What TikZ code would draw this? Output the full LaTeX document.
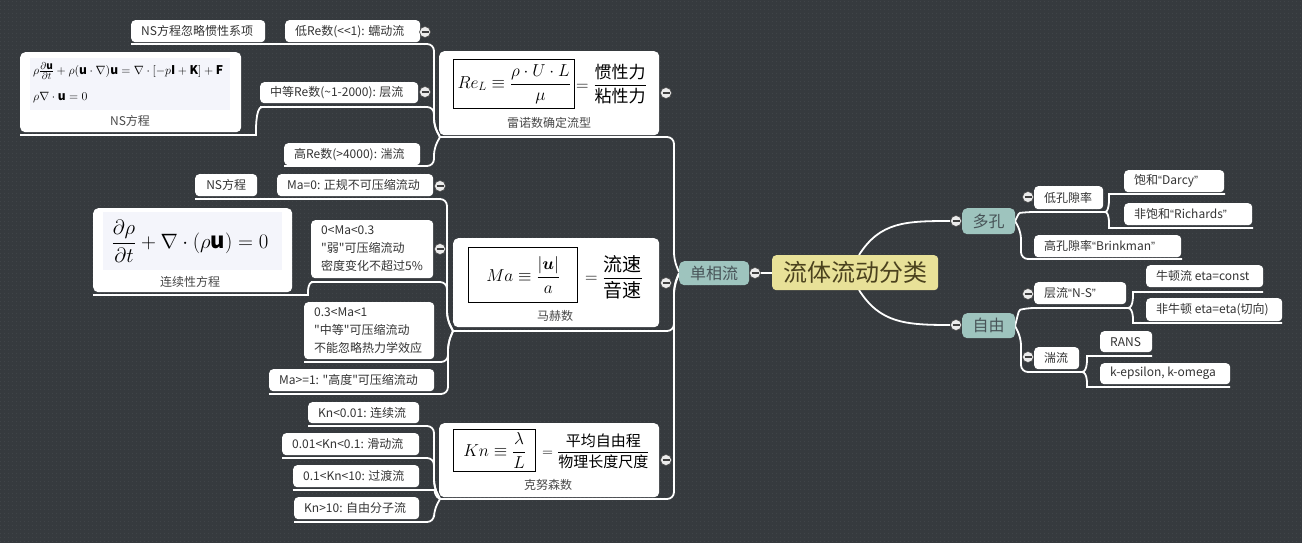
\documentclass[tikz,border=0pt]{standalone}
\usepackage{amsmath,bm}
\usepackage{fontspec}
\setmainfont{Noto Sans CJK SC}
\newfontfamily\plainf{Noto Sans CJK SC}
\newfontfamily\latf{Liberation Sans}
\usetikzlibrary{patterns.meta}
\definecolor{bg}{RGB}{54,58,62}
\definecolor{dotc}{RGB}{68,72,76}
\definecolor{txt}{RGB}{51,51,51}
\definecolor{capc}{RGB}{72,72,72}
\definecolor{tealn}{RGB}{158,196,190}
\definecolor{tealtxt}{RGB}{72,84,88}
\definecolor{yel}{RGB}{232,225,152}
\definecolor{yeltxt}{RGB}{75,66,30}
\definecolor{fbg}{RGB}{244,245,251}
\tikzdeclarepattern{name=bgdots, type=uncolored, bounding box={(0pt,0pt) and (4pt,4pt)}, tile size={(4pt,4pt)}, code={\fill (2pt,2pt) circle (0.6pt);}}
\tikzset{
  conn/.style={draw=white, line width=1.8pt, rounded corners=7pt},
  wbox/.style={fill=white, rounded corners=4pt, anchor=north west, inner xsep=10pt, inner ysep=0pt, text=txt, font=\plainf\fontsize{12}{18}\selectfont},
  bigbox/.style={fill=white, rounded corners=5pt, anchor=north west, inner sep=0pt},
  eqbox/.style={draw=black, line width=1.4pt, anchor=north west, inner sep=0pt},
  fbgbox/.style={fill=fbg, anchor=north west, inner sep=0pt},
  capt/.style={text=capc, inner sep=0pt, font=\fontsize{12}{14}\selectfont},
  tbox/.style={fill=tealn, rounded corners=5pt, text=tealtxt, font=\fontsize{16}{18}\selectfont, anchor=north west, inner sep=0pt},
  tog/.style={circle, fill=white!92!black, draw=gray!60!black, line width=0.6pt, minimum size=11pt, inner sep=0pt,
    path picture={\draw[black!75, line width=1.3pt] ([xshift=-3.5pt]path picture bounding box.center) -- ([xshift=3.5pt]path picture bounding box.center);}},
}
\newcommand\wbx[6]{\node[wbox, minimum height={#5-#3}] (#1) at (#2,#3) {\makebox[\dimexpr#4pt-#2pt-20pt\relax][l]{#6}};}
\newcommand\cbx[7]{\node[#6, minimum width={#4-#2}, minimum height={#5-#3}] (#1) at (#2,#3) {#7};}
\newcommand\nsfr[1]{\text{\fontsize{10}{11}\selectfont$#1$}}
\begin{document}
\begin{tikzpicture}[x=1pt,y=-1pt]
\useasboundingbox (0,0) rectangle (1302,543);
\fill[bg] (0,0) rectangle (1302,543);
\fill[pattern=bgdots, pattern color=dotc] (0,0) rectangle (1302,543);

% ---------- connectors right ----------
\coordinate (cenN) at (859,255);
\coordinate (cenS) at (859,290);
\draw[conn] (cenN) .. controls (880,222) and (905,221) .. (950,221);
\draw[conn] (cenS) .. controls (880,323) and (905,325) .. (950,325);
\draw[conn] (1015,221) .. controls (1019,213) .. (1027,212) -- (1105,212);
\draw[conn] (1015,221) -- (1021,232) -- (1021,259) -- (1182,259);
\draw[conn] (1105,212) .. controls (1110,212) and (1109,194) .. (1116,194) -- (1225,194);
\draw[conn] (1105,212) .. controls (1110,212) and (1109,228) .. (1116,228) -- (1253,228);
\draw[conn] (1015,326) .. controls (1019,310) .. (1027,308) -- (1128,308);
\draw[conn] (1015,326) -- (1021,338) -- (1021,372) -- (1082,372);
\draw[conn] (1128,308) .. controls (1134,308) and (1133,292) .. (1140,292) -- (1263,292);
\draw[conn] (1128,308) .. controls (1134,308) and (1133,323) .. (1140,323) -- (1282,323);
\draw[conn] (1082,372) .. controls (1088,372) and (1087,356) .. (1094,356) -- (1152,356);
\draw[conn] (1082,372) .. controls (1088,372) and (1087,387) .. (1094,387) -- (1230,387);
\draw[conn] (755,273) -- (772,273);

% ---------- connectors left ----------
\draw[conn] (679,272) -- (674,260) -- (674,137) -- (440,137);
\draw[conn] (679,273) -- (674,285) -- (674,331) -- (453,331);
\draw[conn] (679,274) -- (674,287) -- (674,499) -- (440,499);
% Re
\draw[conn] (440,137) -- (434,126) -- (434,44) -- (131,44);
\draw[conn] (440,137) -- (434,126) -- (434,107) -- (260,107);
\draw[conn] (262,107) .. controls (255,107) and (256,135) .. (249,135) -- (20,135);
\draw[conn] (440,137) -- (434,148) -- (434,166) -- (284,166);
% Ma
\draw[conn] (453,331) -- (447,319) -- (447,199) -- (195,199);
\draw[conn] (453,331) -- (447,319) -- (447,282) -- (311,282);
\draw[conn] (313,282) .. controls (307,282) and (308,295) .. (301,295) -- (93,295);
\draw[conn] (453,331) -- (448,343) -- (448,362) -- (304,362);
\draw[conn] (453,331) -- (448,343) -- (448,394) -- (269,394);
% Kn
\draw[conn] (440,499) -- (434,487) -- (434,426) -- (308,426);
\draw[conn] (440,499) -- (434,487) -- (434,458) -- (282,458);
\draw[conn] (440,499) .. controls (435,497) and (434,490) .. (428,490) -- (293,490);
\draw[conn] (440,499) -- (434,510) -- (434,522) -- (294,522);

% ---------- central & main nodes ----------
\node[fill=yel, rounded corners=4pt, anchor=north west, minimum width=166, minimum height=35, inner sep=0pt, text=yeltxt, font=\fontsize{24}{28}\selectfont] (cen) at (772,255) {流体流动分类};
\cbx{sp}{679}{261}{749}{285}{tbox}{单相流}
\cbx{dk0}{962}{208}{1015}{234}{tbox}{多孔}
\cbx{zy}{962}{313}{1015}{338}{tbox}{自由}

% ---------- right white boxes ----------
\wbx{dk}{1034}{186}{1103}{209}{低孔隙率}
\wbx{darcy}{1124}{170}{1224}{192}{饱和{\latf “}Darcy{\latf ”}}
\wbx{rich}{1124}{203}{1252}{225}{非饱和{\latf “}Richards{\latf ”}}
\wbx{brink}{1034}{235}{1181}{257}{高孔隙率{\latf “}Brinkman{\latf ”}}
\wbx{ceng}{1034}{282}{1126}{304}{层流{\latf “}N-S{\latf ”}}
\wbx{newt}{1146}{265}{1263}{287}{牛顿流 eta=const}
\wbx{nnewt}{1146}{298}{1282}{321}{非牛顿 eta=eta(切向)}
\wbx{tuan}{1034}{347}{1079}{369}{湍流}
\wbx{rans}{1100}{331}{1152}{352}{RANS}
\wbx{keps}{1100}{363}{1230}{384}{k-epsilon, k-omega}

% ---------- left white boxes ----------
\wbx{re1}{285}{20}{420}{42}{低Re数(<<1): 蠕动流}
\wbx{re1c}{131}{20}{265}{42}{NS方程忽略惯性系项}
\wbx{re2}{260}{82}{418}{103}{中等Re数(\textasciitilde1-2000): 层流}
\wbx{re3}{284}{143}{420}{165}{高Re数(>4000): 湍流}
\wbx{ma1}{277}{174}{433}{196}{Ma=0: 正规不可压缩流动}
\node[wbox, inner xsep=0pt, minimum width=62, minimum height=22] (ma1c) at (195,174) {NS方程};
\wbx{ma2}{311}{220}{433}{278}{\begin{tabular}{@{}l@{}}0<Ma<0.3\\"弱"可压缩流动\\密度变化不超过5\%\end{tabular}}
\wbx{ma3}{304}{302}{434}{359}{\begin{tabular}{@{}l@{}}0.3<Ma<1\\"中等"可压缩流动\\不能忽略热力学效应\end{tabular}}
\wbx{ma4}{269}{369}{434}{391}{Ma>=1: "高度"可压缩流动}
\wbx{kn1}{308}{402}{419}{423}{Kn<0.01: 连续流}
\wbx{kn2}{282}{433}{419}{455}{0.01<Kn<0.1: 滑动流}
\wbx{kn3}{293}{465}{419}{487}{0.1<Kn<10: 过渡流}
\wbx{kn4}{294}{497}{419}{519}{Kn>10: 自由分子流}

% ---------- NS equation box ----------
\cbx{nsb}{20}{52}{241}{132}{bigbox}{}
\cbx{nsbg}{30}{58}{230}{110}{fbgbox}{}
\node[anchor=west, inner sep=0pt, font=\fontsize{12}{14}\selectfont] (ns1) at (33,71) {$\rho\frac{\nsfr{\partial\mathbf{u}}}{\nsfr{\partial t}}+\rho(\mathbf{u}\cdot\nabla)\mathbf{u}=\nabla\cdot[-p\mathbf{I}+\mathbf{K}]+\mathbf{F}$};
\node[anchor=west, inner sep=0pt, font=\fontsize{12}{14}\selectfont] (ns2) at (33,98) {$\rho\nabla\cdot\mathbf{u}=0$};
\node[capt] (nscap) at (130,121) {NS方程};

% ---------- continuity box ----------
\cbx{ctb}{93}{208}{292}{292}{bigbox}{}
\cbx{ctbg}{103}{212}{282}{270}{fbgbox}{}
\node[inner sep=0pt, font=\fontsize{22}{26}\selectfont] (cteq) at (190,241) {$\dfrac{\partial\rho}{\partial t}+\nabla\cdot(\rho\mathbf{u})=0$};
\node[capt] (ctcap) at (190,282) {连续性方程};

% ---------- Reynolds box ----------
\cbx{reb}{439}{51}{659}{135}{bigbox}{}
\cbx{reeq}{453}{59}{574}{108}{eqbox}{}
\node[inner sep=0pt, font=\fontsize{17}{20}\selectfont] (reform) at (reeq.center) {$Re_L\equiv\dfrac{\rho\cdot U\cdot L}{\mu}$};
\node[anchor=west, inner sep=0pt, font=\fontsize{17}{20}\selectfont] (refr) at (576,84) {$=\dfrac{\text{惯性力}}{\text{粘性力}}$};
\node[capt] (recap) at (549,123) {雷诺数确定流型};

% ---------- Mach box ----------
\cbx{mab}{453}{238}{659}{327}{bigbox}{}
\cbx{maeq}{468}{247}{577}{302}{eqbox}{}
\node[inner sep=0pt, font=\fontsize{18}{21}\selectfont] (maform) at (maeq.center) {$Ma\equiv\dfrac{|\boldsymbol{u}|}{a}$};
\node[anchor=west, inner sep=0pt, font=\fontsize{19}{22}\selectfont] (mafr) at (585,277) {$=\dfrac{\text{流速}}{\text{音速}}$};
\node[capt] (macap) at (555,316) {马赫数};

% ---------- Knudsen box ----------
\cbx{knb}{439}{423}{659}{497}{bigbox}{}
\cbx{kneq}{453}{429}{535}{471}{eqbox}{}
\node[inner sep=0pt, font=\fontsize{16}{19}\selectfont] (knform) at (kneq.center) {$Kn\equiv\dfrac{\lambda}{L}$};
\node[anchor=west, inner sep=0pt, font=\fontsize{15}{18}\selectfont] (knfr) at (542,451) {$=\dfrac{\text{平均自由程}}{\text{物理长度尺度}}$};
\node[capt] (kncap) at (548,485) {克努森数};

% ---------- toggles ----------
\node[tog] (sptog) at (755,273) {};
\node[tog] (dk0tog) at (956,221) {};
\node[tog] (zytog) at (956,325) {};
\node[tog] (dkt) at (1028,197) {};
\node[tog] (cengt) at (1028,294) {};
\node[tog] (tuant) at (1028,357) {};
\node[tog] (ret) at (666,93) {};
\node[tog] (mat) at (666,283) {};
\node[tog] (knt) at (666,460) {};
\node[tog] (re1t) at (425,32) {};
\node[tog] (re2t) at (425,92) {};
\node[tog] (ma1t) at (440,186) {};
\node[tog] (ma2t) at (440,249) {};
\end{tikzpicture}
\end{document}
